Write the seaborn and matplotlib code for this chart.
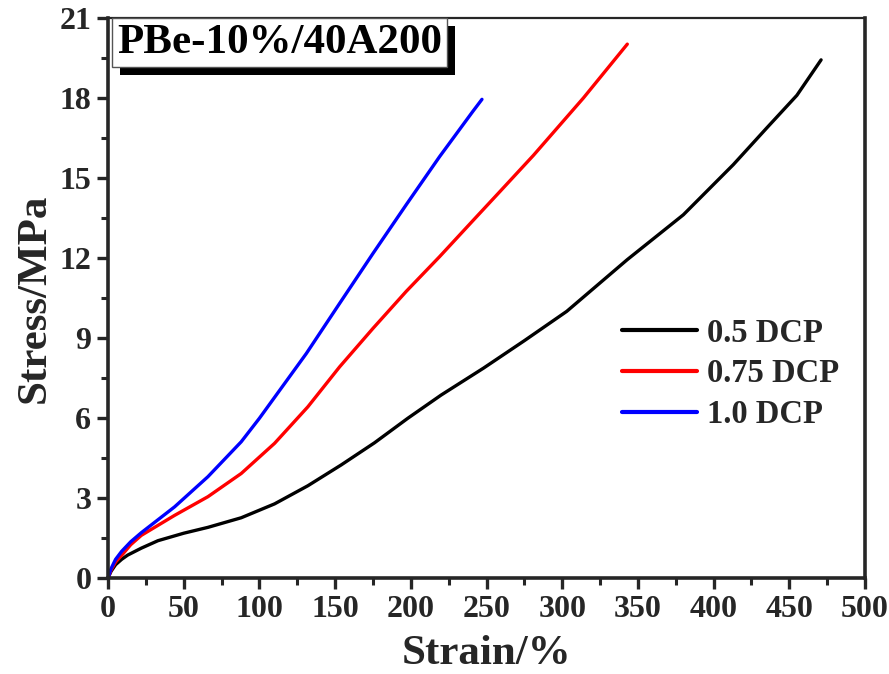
import pandas as pd
import matplotlib.pyplot as plt
import matplotlib.transforms as mtransforms
from matplotlib.patches import Rectangle
from matplotlib.ticker import MultipleLocator
import seaborn as sns

# Stress-strain curves
strain_05 = [0, 2, 5, 9, 13, 22, 33, 50, 66, 88, 110, 132, 154, 176, 198, 220, 248, 275, 303, 343, 380, 413, 435, 455, 471]
stress_05 = [0, 0.25, 0.5, 0.7, 0.86, 1.12, 1.40, 1.68, 1.90, 2.26, 2.78, 3.46, 4.24, 5.07, 5.99, 6.86, 7.87, 8.9, 10.0, 11.94, 13.62, 15.5, 16.87, 18.1, 19.43]

strain_075 = [0, 2, 5, 9, 15, 22, 44, 66, 88, 110, 132, 153, 175, 197, 219, 241, 259, 281, 314, 343]
stress_075 = [0, 0.3, 0.6, 0.85, 1.25, 1.6, 2.35, 3.05, 3.92, 5.05, 6.42, 7.92, 9.36, 10.75, 12.05, 13.4, 14.5, 15.85, 18.0, 20.02]

strain_10 = [0, 2, 5, 9, 15, 22, 44, 66, 88, 100, 131, 153, 175, 197, 219, 241, 247]
stress_10 = [0, 0.35, 0.7, 1.0, 1.36, 1.7, 2.67, 3.8, 5.11, 5.99, 8.42, 10.3, 12.17, 14.0, 15.8, 17.5, 17.95]

labels = ["0.5 DCP", "0.75 DCP", "1.0 DCP"]
colors = ["black", "#ff0000", "#0000ff"]

sns.set_style("ticks")
plt.rcParams["font.family"] = ["Liberation Serif", "DejaVu Serif"]
plt.rcParams["font.weight"] = "bold"

fig = plt.figure(figsize=(8.89, 6.74), dpi=100)
ax = fig.add_axes([0.1215, 0.1424, 0.8515, 0.8309])

series = [(strain_05, stress_05), (strain_075, stress_075), (strain_10, stress_10)]
for (x, y), lab, col in zip(series, labels, colors):
    df = pd.DataFrame({"strain": x, "stress": y})
    sns.lineplot(data=df, x="strain", y="stress", ax=ax, color=col, lw=2.4,
                 label=lab, sort=False, estimator=None)

ax.set_xlim(0, 500)
ax.set_ylim(0, 21)
ax.xaxis.set_major_locator(MultipleLocator(50))
ax.xaxis.set_minor_locator(MultipleLocator(25))
ax.yaxis.set_major_locator(MultipleLocator(3))
ax.yaxis.set_minor_locator(MultipleLocator(1.5))

for side in ["left", "bottom", "right"]:
    ax.spines[side].set_linewidth(2.6)
ax.spines["top"].set_linewidth(1.6)
ax.tick_params(which="major", direction="out", length=8, width=2.4, labelsize=23, pad=4)
ax.tick_params(which="minor", direction="out", length=5, width=2.2)
for lbl in ax.get_xticklabels() + ax.get_yticklabels():
    lbl.set_fontweight("bold")

ax.set_xlabel("Strain/%", fontsize=31, fontweight="bold", labelpad=8)
ax.set_ylabel("Stress/MPa", fontsize=31, fontweight="bold", labelpad=4)

leg = ax.legend(loc="upper left", bbox_to_anchor=(0.679, 0.465), frameon=False,
                fontsize=23.5, handlelength=2.3, handletextpad=0.3, labelspacing=0.3,
                borderpad=0, borderaxespad=0)
for t in leg.get_texts():
    t.set_fontweight("bold")
for h in leg.get_lines():
    h.set_linewidth(3)

# title box with drop shadow
title_txt = ax.text(0.012, 0.99, "PBe-10%/40A200", transform=ax.transAxes, fontsize=31,
                    fontweight="bold", color="black", va="top", ha="left", zorder=10,
                    bbox=dict(boxstyle="square,pad=0.12", facecolor="white",
                              edgecolor="#555555", lw=1))
fig.canvas.draw()
bb = title_txt.get_bbox_patch().get_window_extent()
shadow = Rectangle((bb.x0 + 8, bb.y0 - 8), bb.width, bb.height,
                   transform=mtransforms.IdentityTransform(), facecolor="black",
                   edgecolor="none", zorder=9, clip_on=False)
ax.add_patch(shadow)

fig.savefig("out.png", dpi=100)
